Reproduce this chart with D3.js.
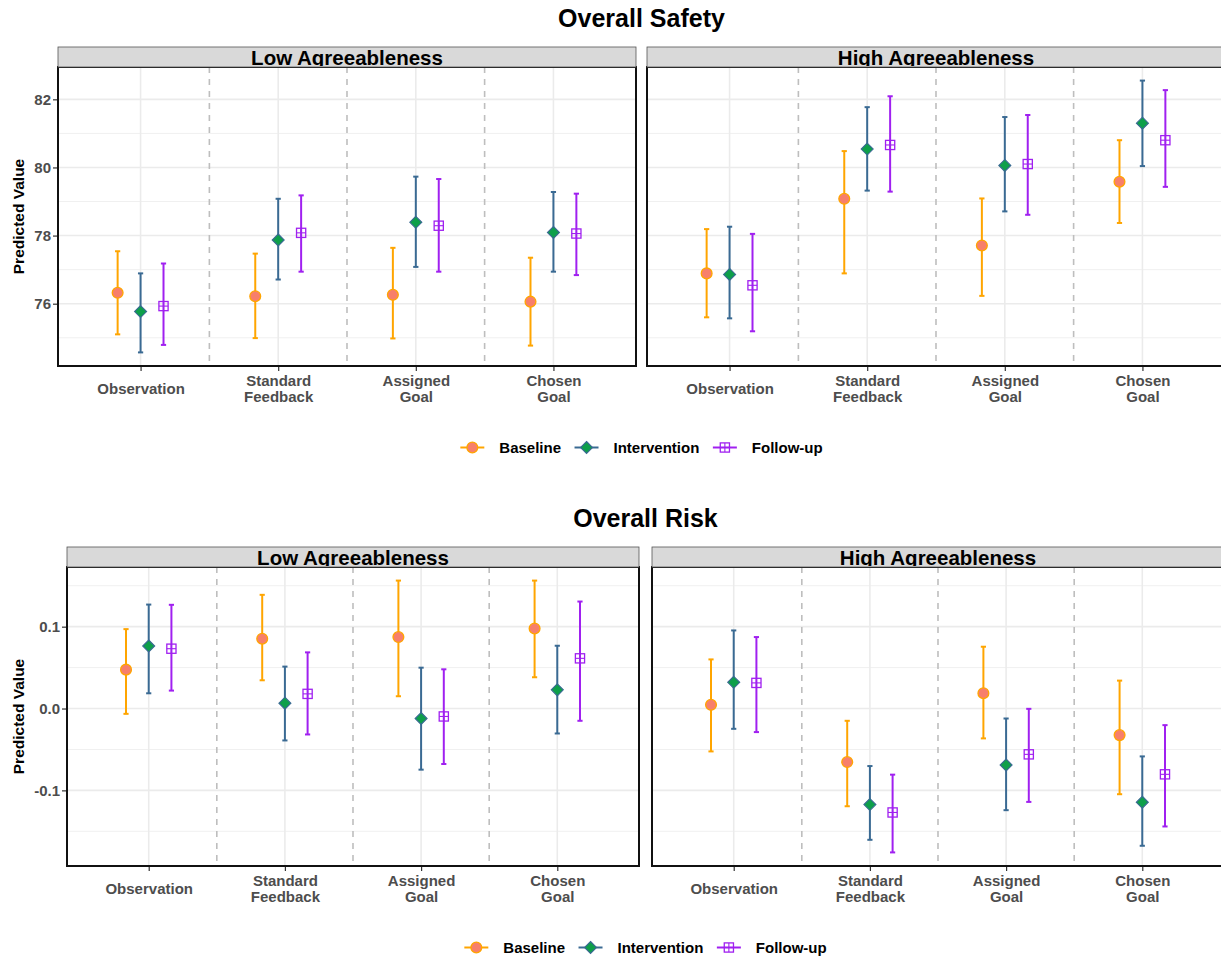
<!DOCTYPE html>
<html>
<head>
<meta charset="utf-8">
<script src="https://cdn.jsdelivr.net/npm/d3@7"></script>
<style>
  body { margin: 0; background: #ffffff; }
  svg { display: block; font-family: "Liberation Sans", Arial, Helvetica, sans-serif; }
</style>
</head>
<body>
<svg id="chart" width="1221" height="960"></svg>
<script>
// ---- categories ----
const conditions = ["Observation", "Standard Feedback", "Assigned Goal", "Chosen Goal"];
const conditionLines = [["Observation"], ["Standard", "Feedback"], ["Assigned", "Goal"], ["Chosen", "Goal"]];
const phases = ["Baseline", "Intervention", "Follow-up"];
const facetNames = ["Low Agreeableness", "High Agreeableness"];

// ---- Overall Safety: [estimate, lower, upper] per condition ----
const safetyLowBaseline     = [[76.32, 75.10, 77.54], [76.22, 74.99, 77.47], [76.26, 74.98, 77.64], [76.06, 74.77, 77.35]];
const safetyLowIntervention = [[75.77, 74.57, 76.89], [77.87, 76.71, 79.08], [78.39, 77.08, 79.73], [78.09, 76.94, 79.28]];
const safetyLowFollowup     = [[75.93, 74.79, 77.18], [78.08, 76.94, 79.18], [78.29, 76.94, 79.66], [78.06, 76.84, 79.23]];
const safetyHighBaseline     = [[76.89, 75.60, 78.19], [79.08, 76.89, 80.48], [77.71, 76.23, 79.09], [79.58, 78.37, 80.80]];
const safetyHighIntervention = [[76.86, 75.57, 78.26], [80.54, 79.32, 81.77], [80.06, 78.71, 81.48], [81.30, 80.04, 82.55]];
const safetyHighFollowup     = [[76.54, 75.19, 78.05], [80.66, 79.29, 82.09], [80.10, 78.61, 81.54], [80.80, 79.43, 82.27]];

// ---- Overall Risk: [estimate, lower, upper] per condition ----
const riskLowBaseline     = [[0.0475, -0.0065, 0.0970], [0.0853, 0.0345, 0.1389], [0.0873, 0.0150, 0.1563], [0.0978, 0.0382, 0.1563]];
const riskLowIntervention = [[0.0764, 0.0186, 0.1270], [0.0065, -0.0390, 0.0512], [-0.0122, -0.0747, 0.0499], [0.0228, -0.0305, 0.0767]];
const riskLowFollowup     = [[0.0731, 0.0219, 0.1267], [0.0179, -0.0317, 0.0686], [-0.0097, -0.0678, 0.0479], [0.0613, -0.0150, 0.1307]];
const riskHighBaseline     = [[0.0045, -0.0524, 0.0600], [-0.0654, -0.1194, -0.0150], [0.0187, -0.0365, 0.0755], [-0.0325, -0.1047, 0.0341]];
const riskHighIntervention = [[0.0320, -0.0248, 0.0954], [-0.1173, -0.1604, -0.0703], [-0.0690, -0.1242, -0.0122], [-0.1145, -0.1677, -0.0585]];
const riskHighFollowup     = [[0.0313, -0.0288, 0.0873], [-0.1270, -0.1758, -0.0808], [-0.0560, -0.1141, -0.0004], [-0.0804, -0.1441, -0.0203]];

// ---- axis ticks ----
const safetyTicks = [76, 78, 80, 82];
const safetyMinor = [75, 77, 79, 81];
const riskTicks = [-0.1, 0.0, 0.1];
const riskMinor = [-0.15, -0.05, 0.05, 0.15];

const FONT = "'Liberation Sans', Arial, Helvetica, sans-serif";
const lineColor = { "Baseline": "#FFA500", "Intervention": "#3A6A93", "Follow-up": "#A020F0" };

const svg = d3.select("#chart");
svg.append("rect").attr("width", 1221).attr("height", 960).attr("fill", "#ffffff");

let clipId = 0;

function drawSymbol(g, phase, cx, cy) {
  if (phase === "Baseline") {
    g.append("circle").attr("cx", cx).attr("cy", cy).attr("r", 5.4)
      .attr("fill", "#F77F6B").attr("stroke", "#FFA500").attr("stroke-width", 1.3);
  } else if (phase === "Intervention") {
    const h = 6;
    g.append("path")
      .attr("d", `M${cx},${cy - h}L${cx + h},${cy}L${cx},${cy + h}L${cx - h},${cy}Z`)
      .attr("fill", "#0E9F4A").attr("stroke", "#3A6A93").attr("stroke-width", 1.1);
  } else {
    const s = 4.6;
    const c = lineColor["Follow-up"];
    g.append("rect").attr("x", cx - s).attr("y", cy - s).attr("width", 2 * s).attr("height", 2 * s)
      .attr("fill", "none").attr("stroke", c).attr("stroke-width", 1.3);
    g.append("line").attr("x1", cx - s).attr("x2", cx + s).attr("y1", cy).attr("y2", cy)
      .attr("stroke", c).attr("stroke-width", 1.1);
    g.append("line").attr("x1", cx).attr("x2", cx).attr("y1", cy - s).attr("y2", cy + s)
      .attr("stroke", c).attr("stroke-width", 1.1);
  }
}

function drawLegend(cx, cy) {
  const lg = svg.append("g");
  const keyW = 24, gapText = 15, gapItem = 13.5;
  const items = phases.map(p => {
    const t = lg.append("text").attr("font-family", FONT).attr("font-weight", "bold")
      .attr("font-size", 15).attr("fill", "#000").attr("dominant-baseline", "central")
      .attr("y", cy).text(p);
    return { p, t, w: t.node().getComputedTextLength() };
  });
  const total = d3.sum(items, d => keyW + gapText + d.w) + gapItem * (items.length - 1);
  let x = cx - total / 2;
  items.forEach(it => {
    lg.append("line").attr("x1", x).attr("x2", x + keyW).attr("y1", cy).attr("y2", cy)
      .attr("stroke", lineColor[it.p]).attr("stroke-width", 2);
    drawSymbol(lg, it.p, x + keyW / 2, cy);
    it.t.attr("x", x + keyW + gapText);
    x += keyW + gapText + it.w + gapItem;
  });
}

function drawChart(cfg) {
  const g = svg.append("g");
  const allBounds = cfg.facets.flatMap(f => phases.flatMap(p => f[p].flatMap(d => [d[1], d[2]])));
  const [lo, hi] = d3.extent(allBounds);
  const pad = (hi - lo) * 0.05;
  const y = d3.scaleLinear().domain([lo - pad, hi + pad]).range([cfg.panelBottom, cfg.panelTop]);

  // title
  const cxAll = (cfg.panelX[0][0] + cfg.panelX[1][1]) / 2;
  g.append("text").attr("x", cxAll).attr("y", cfg.titleY).attr("text-anchor", "middle")
    .attr("font-family", FONT).attr("font-weight", "bold").attr("font-size", 25).attr("fill", "#000")
    .text(cfg.title);

  cfg.facets.forEach((facet, fi) => {
    const [x0, x1] = cfg.panelX[fi];
    const x = d3.scalePoint().domain(conditions).range([x0, x1]).padding(0.6);
    const step = x.step();
    const pg = g.append("g");

    pg.append("rect").attr("x", x0).attr("y", cfg.panelTop).attr("width", x1 - x0)
      .attr("height", cfg.panelBottom - cfg.panelTop).attr("fill", "#fff");

    // minor horizontal grid
    pg.selectAll("line.minor").data(cfg.minor).join("line").attr("class", "minor")
      .attr("x1", x0).attr("x2", x1).attr("y1", d => y(d)).attr("y2", d => y(d))
      .attr("stroke", "#F0F0F0").attr("stroke-width", 1);
    // major horizontal grid
    pg.selectAll("line.major").data(cfg.ticks).join("line").attr("class", "major")
      .attr("x1", x0).attr("x2", x1).attr("y1", d => y(d)).attr("y2", d => y(d))
      .attr("stroke", "#EBEBEB").attr("stroke-width", 1.6);
    // vertical grid at each condition
    pg.selectAll("line.vgrid").data(conditions).join("line").attr("class", "vgrid")
      .attr("x1", d => x(d)).attr("x2", d => x(d)).attr("y1", cfg.panelTop).attr("y2", cfg.panelBottom)
      .attr("stroke", "#EBEBEB").attr("stroke-width", 1.6);
    // dashed separators between conditions
    pg.selectAll("line.sep").data(conditions.slice(0, -1)).join("line").attr("class", "sep")
      .attr("x1", d => x(d) + step / 2).attr("x2", d => x(d) + step / 2)
      .attr("y1", cfg.panelTop).attr("y2", cfg.panelBottom)
      .attr("stroke", "#BEBEBE").attr("stroke-width", 1.6).attr("stroke-dasharray", "6,6");

    // error bars and points, dodged by phase
    const capHalf = step * 0.019;
    phases.forEach((p, pi) => {
      const off = (pi - 1) * step / 6;
      const rows = facet[p].map((d, ci) => ({ c: conditions[ci], est: d[0], lo: d[1], hi: d[2] }));
      const eg = pg.append("g").attr("stroke", lineColor[p]).attr("stroke-width", 2);
      rows.forEach(r => {
        const cx = x(r.c) + off;
        eg.append("line").attr("x1", cx).attr("x2", cx).attr("y1", y(r.lo)).attr("y2", y(r.hi));
        eg.append("line").attr("x1", cx - capHalf).attr("x2", cx + capHalf).attr("y1", y(r.lo)).attr("y2", y(r.lo));
        eg.append("line").attr("x1", cx - capHalf).attr("x2", cx + capHalf).attr("y1", y(r.hi)).attr("y2", y(r.hi));
      });
      const sg = pg.append("g");
      rows.forEach(r => drawSymbol(sg, p, x(r.c) + off, y(r.est)));
    });

    // panel border
    pg.append("rect").attr("x", x0).attr("y", cfg.panelTop).attr("width", x1 - x0)
      .attr("height", cfg.panelBottom - cfg.panelTop).attr("fill", "none")
      .attr("stroke", "#111").attr("stroke-width", 2);

    // strip
    const id = "clip" + (clipId++);
    pg.append("clipPath").attr("id", id).append("rect")
      .attr("x", x0).attr("y", cfg.stripTop).attr("width", x1 - x0).attr("height", cfg.panelTop - cfg.stripTop - 1);
    pg.append("rect").attr("x", x0).attr("y", cfg.stripTop).attr("width", x1 - x0)
      .attr("height", cfg.panelTop - cfg.stripTop).attr("fill", "#D9D9D9")
      .attr("stroke", "#555").attr("stroke-width", 0.8);
    pg.append("text").attr("clip-path", `url(#${id})`)
      .attr("x", (x0 + x1) / 2).attr("y", cfg.panelTop - 1.8).attr("text-anchor", "middle")
      .attr("font-family", FONT).attr("font-weight", "bold").attr("font-size", 20.5).attr("fill", "#000")
      .text(facetNames[fi]);

    // x axis
    const xa = pg.append("g").attr("transform", `translate(0,${cfg.panelBottom + 1})`)
      .call(d3.axisBottom(x).tickSize(4).tickFormat(""));
    xa.select(".domain").remove();
    xa.selectAll(".tick line").attr("stroke", "#333").attr("stroke-width", 1.2);
    xa.selectAll(".tick text").each(function (d) {
      const lines = conditionLines[conditions.indexOf(d)];
      const t = d3.select(this).attr("y", 0).attr("dy", null).text(null)
        .attr("font-family", FONT).attr("font-weight", "bold").attr("font-size", 15)
        .attr("fill", "#4D4D4D").attr("dominant-baseline", "central");
      const ys = lines.length === 1 ? [21] : [13, 29];
      lines.forEach((ln, i) => t.append("tspan").attr("x", 0).attr("y", ys[i]).text(ln));
    });

    // y axis on the first facet only
    if (fi === 0) {
      const ya = pg.append("g").attr("transform", `translate(${x0 - 1},0)`)
        .call(d3.axisLeft(y).tickValues(cfg.ticks).tickSize(4).tickPadding(2).tickFormat(cfg.fmt));
      ya.select(".domain").remove();
      ya.selectAll(".tick line").attr("stroke", "#333").attr("stroke-width", 1.2);
      ya.selectAll(".tick text").attr("font-family", FONT).attr("font-weight", "bold")
        .attr("font-size", 15).attr("fill", "#4D4D4D");
      pg.append("text")
        .attr("transform", `translate(18,${(cfg.panelTop + cfg.panelBottom) / 2}) rotate(-90)`)
        .attr("text-anchor", "middle").attr("dominant-baseline", "central")
        .attr("font-family", FONT).attr("font-weight", "bold").attr("font-size", 15.5).attr("fill", "#000")
        .text("Predicted Value");
    }
  });

  drawLegend(cxAll, cfg.panelBottom + 81.5);
}

drawChart({
  title: "Overall Safety",
  titleY: 27,
  stripTop: 47,
  panelTop: 67,
  panelBottom: 366,
  panelX: [[58, 636], [647, 1225]],
  ticks: safetyTicks,
  minor: safetyMinor,
  fmt: d3.format("d"),
  facets: [
    { "Baseline": safetyLowBaseline, "Intervention": safetyLowIntervention, "Follow-up": safetyLowFollowup },
    { "Baseline": safetyHighBaseline, "Intervention": safetyHighIntervention, "Follow-up": safetyHighFollowup }
  ]
});

drawChart({
  title: "Overall Risk",
  titleY: 527,
  stripTop: 547,
  panelTop: 567,
  panelBottom: 866,
  panelX: [[67, 639], [652, 1224]],
  ticks: riskTicks,
  minor: riskMinor,
  fmt: v => v.toFixed(1),
  facets: [
    { "Baseline": riskLowBaseline, "Intervention": riskLowIntervention, "Follow-up": riskLowFollowup },
    { "Baseline": riskHighBaseline, "Intervention": riskHighIntervention, "Follow-up": riskHighFollowup }
  ]
});
</script>
</body>
</html>
